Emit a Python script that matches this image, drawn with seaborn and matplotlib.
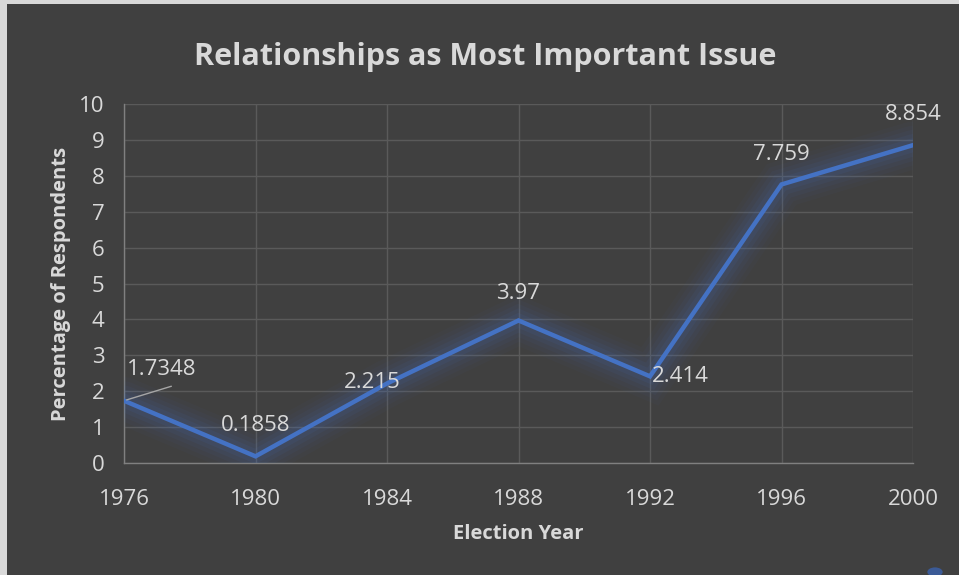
import matplotlib
matplotlib.use("Agg")
import matplotlib.pyplot as plt
import matplotlib.patheffects as pe
from matplotlib.patches import Rectangle, Circle
import seaborn as sns
import pandas as pd

years = [1976, 1980, 1984, 1988, 1992, 1996, 2000]
percent = [1.7348, 0.1858, 2.215, 3.97, 2.414, 7.759, 8.854]
value_labels = ["1.7348", "0.1858", "2.215", "3.97", "2.414", "7.759", "8.854"]
# label offsets in pixels relative to each point
label_offsets = [(38, 31), (0, 31), (-15, 1), (0, 27), (30, 0), (0, 30), (0, 31)]

title = "Relationships as Most Important Issue"
x_title = "Election Year"
y_title = "Percentage of Respondents"

BG = "#404040"
LINE = "#4472C4"
TEXT = "#d9d9d9"
GRID = "#5a5a5a"

sns.set_theme(style="dark")
plt.rcParams["font.family"] = ["Open Sans", "DejaVu Sans"]

df = pd.DataFrame({"year": years, "pct": percent})

fig = plt.figure(figsize=(9.59, 5.75), dpi=100)
fig.patch.set_facecolor("#d9d9d9")
fig.add_artist(Rectangle((7 / 959, 0), 1, 1 - 4 / 575, transform=fig.transFigure,
                         facecolor=BG, edgecolor="none", zorder=-10))

ax = fig.add_axes([124 / 959, 1 - 463 / 575, (913 - 124) / 959, (463 - 104) / 575])
ax.set_facecolor(BG)

sns.lineplot(data=df, x="year", y="pct", ax=ax, color=LINE, linewidth=3.2,
             solid_joinstyle="miter", zorder=5)
line = ax.get_lines()[0]
glow = []
for w, a in [(34, 0.035), (28, 0.04), (22, 0.05), (16, 0.07), (10, 0.09)]:
    glow.append(pe.Stroke(linewidth=w, foreground=LINE, alpha=a))
glow.append(pe.Normal())
line.set_path_effects(glow)

ax.set_xlim(1976, 2000)
ax.set_ylim(0, 10)
ax.set_xticks(years)
ax.set_yticks(range(0, 11))
ax.grid(True, color=GRID, linewidth=1.0)
ax.tick_params(axis="both", colors=TEXT, labelsize=16, length=0)
ax.tick_params(axis="x", pad=19)
ax.tick_params(axis="y", pad=14)
for lbl in ax.get_xticklabels() + ax.get_yticklabels():
    lbl.set_color(TEXT)
for side in ["top", "right"]:
    ax.spines[side].set_visible(False)
for side in ["left", "bottom"]:
    ax.spines[side].set_visible(True)
    ax.spines[side].set_color("#808080")
    ax.spines[side].set_linewidth(1.0)

ax.set_xlabel(x_title, color=TEXT, fontsize=14.5, fontweight="bold", labelpad=10)
ax.set_ylabel(y_title, color=TEXT, fontsize=14.5, fontweight="bold", labelpad=6)

for x, y, txt, (dx, dy) in zip(years, percent, value_labels, label_offsets):
    ax.annotate(txt, (x, y), xytext=(dx * 0.72, dy * 0.72), textcoords="offset points",
                ha="center", va="center", color=TEXT, fontsize=16, zorder=6)
# leader line for the first label
ax.annotate("", (years[0], percent[0]), xytext=(36, 11), textcoords="offset points",
            arrowprops=dict(arrowstyle="-", color="#a6a6a6", linewidth=1.0), zorder=6)

fig.text(485 / 959, 1 - 57 / 575, title, ha="center", va="center", color=TEXT,
         fontsize=22, fontweight="bold")

fig.add_artist(Circle((935 / 959, 1 - 572 / 575), 0.008, transform=fig.transFigure,
                      facecolor="#3b5a96", edgecolor="none"))

fig.savefig("out.png", dpi=100, facecolor=fig.get_facecolor())
